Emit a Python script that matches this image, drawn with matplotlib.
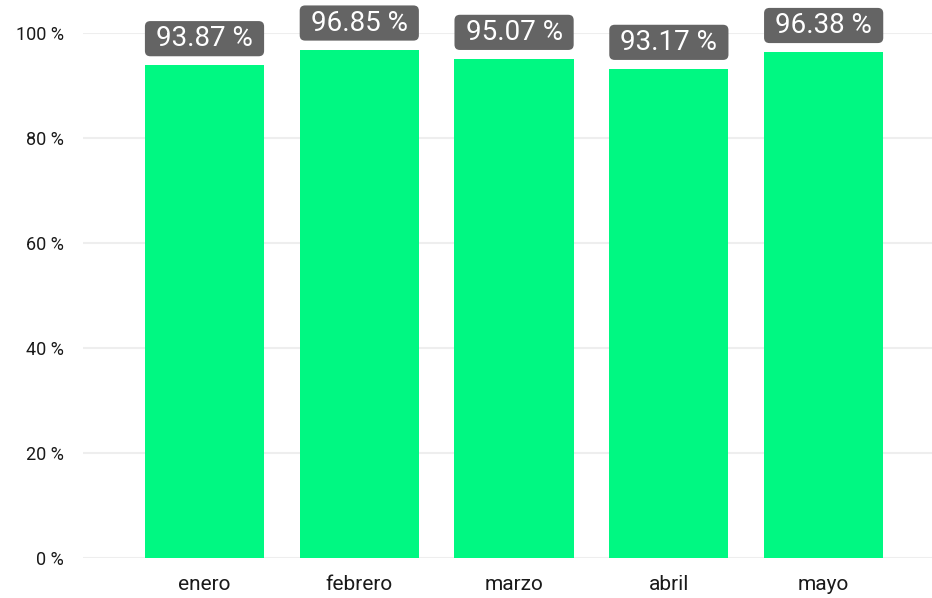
import matplotlib.pyplot as plt
from matplotlib.patches import FancyBboxPatch
from matplotlib.ticker import FuncFormatter

# Data
months = ['enero', 'febrero', 'marzo', 'abril', 'mayo']
values = [93.87, 96.85, 95.07, 93.17, 96.38]
yticks = [0, 20, 40, 60, 80, 100]

plt.rcParams['font.family'] = ['Roboto', 'DejaVu Sans']

fig = plt.figure(figsize=(9.32, 5.98), dpi=100)
ax = fig.add_axes([83 / 932, 40 / 598, 1 - 83 / 932, 525 / 598])

bar_w = 0.77
x = range(len(months))
ax.bar(x, values, width=bar_w, color='#00F882', zorder=2)

# value labels in dark rounded boxes above the bars
gap, box_h = 1.7, 6.7
for i, v in enumerate(values):
    box = FancyBboxPatch((i - bar_w / 2, v + gap), bar_w, box_h,
                         boxstyle='round,pad=0,rounding_size=0.035',
                         mutation_aspect=29, fc='#646464', ec='none',
                         clip_on=False, zorder=3)
    ax.add_patch(box)
    ax.text(i, v + gap + box_h / 2, f'{v:.2f} %', ha='center', va='center',
            fontsize=20, color='white', zorder=4, clip_on=False)

ax.set_ylim(0, 100)
ax.set_xlim(-0.785, 4.70)
ax.set_yticks(yticks)
ax.yaxis.set_major_formatter(FuncFormatter(lambda v, p: f'{v:.0f} %'))
ax.set_xticks(list(x))
ax.set_xticklabels(months, fontsize=15, color='#1a1a1a')
ax.tick_params(axis='y', labelsize=13, labelcolor='#1a1a1a', length=0, pad=14)
ax.tick_params(axis='x', length=0, pad=12)
ax.grid(axis='y', color='#EEEEEE', linewidth=1.5, zorder=0)
for s in ax.spines.values():
    s.set_visible(False)

fig.savefig('out.png', dpi=100)
